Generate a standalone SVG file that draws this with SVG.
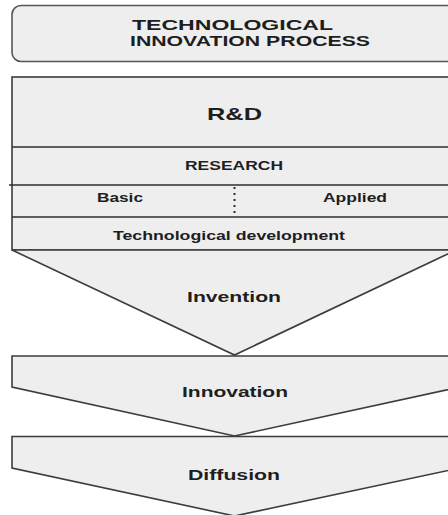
<svg xmlns="http://www.w3.org/2000/svg" width="448" height="515" viewBox="0 0 448 515">
<style>
.shape{fill:#eeeeee;stroke:#3c3c3c;stroke-width:1.6;stroke-linejoin:miter}
.title{fill:#eeeeee;stroke:#555555;stroke-width:1.6}
.div{stroke:#2e2e2e;stroke-width:1.6;fill:none}
text{font-family:"Liberation Sans",Arial,Helvetica,sans-serif;font-weight:bold;fill:#1e1e1e}
.c{text-anchor:middle}
</style>
<rect width="448" height="515" fill="#ffffff"/>
<g id="title">
<rect class="title" x="12" y="5.5" width="470" height="56" rx="9"/>
<text x="132" y="29.5" font-size="15.5" textLength="201" lengthAdjust="spacingAndGlyphs">TECHNOLOGICAL</text>
<text x="130" y="46" font-size="15.5" textLength="240" lengthAdjust="spacingAndGlyphs">INNOVATION PROCESS</text>
</g>
<g id="rd">
<rect class="shape" x="12" y="77" width="460" height="173"/>
<text x="234.5" y="120" font-size="17" class="c" textLength="55" lengthAdjust="spacingAndGlyphs">R&amp;D</text>
</g>
<g id="research">
<line class="div" x1="12" y1="147" x2="448" y2="147"/>
<text x="234" y="170" font-size="12" class="c" textLength="98" lengthAdjust="spacingAndGlyphs">RESEARCH</text>
</g>
<g id="basic-applied">
<line class="div" x1="9" y1="185" x2="448" y2="185"/>
<line x1="234.5" y1="187" x2="234.5" y2="215" stroke="#2e2e2e" stroke-width="2" stroke-dasharray="2,4"/>
<text x="120" y="202" font-size="12" class="c" textLength="46" lengthAdjust="spacingAndGlyphs">Basic</text>
<text x="355" y="202" font-size="12" class="c" textLength="64" lengthAdjust="spacingAndGlyphs">Applied</text>
</g>
<g id="techdev">
<line class="div" x1="12" y1="217" x2="448" y2="217"/>
<text x="229" y="240" font-size="12" class="c" textLength="232" lengthAdjust="spacingAndGlyphs">Technological development</text>
</g>
<g id="invention">
<polygon class="shape" points="12,250 456,250 234.5,355"/>
<text x="234" y="302" font-size="14" class="c" textLength="94" lengthAdjust="spacingAndGlyphs">Invention</text>
</g>
<g id="innovation">
<polygon class="shape" points="12,356 460,356 460,387 234.5,436 12,387"/>
<text x="235" y="397" font-size="14" class="c" textLength="106" lengthAdjust="spacingAndGlyphs">Innovation</text>
</g>
<g id="diffusion">
<polygon class="shape" points="12,436.5 460,436.5 460,468 234.5,516 12,468"/>
<text x="234" y="480" font-size="14" class="c" textLength="92" lengthAdjust="spacingAndGlyphs">Diffusion</text>
</g>
<g id="connectors"></g>
</svg>
